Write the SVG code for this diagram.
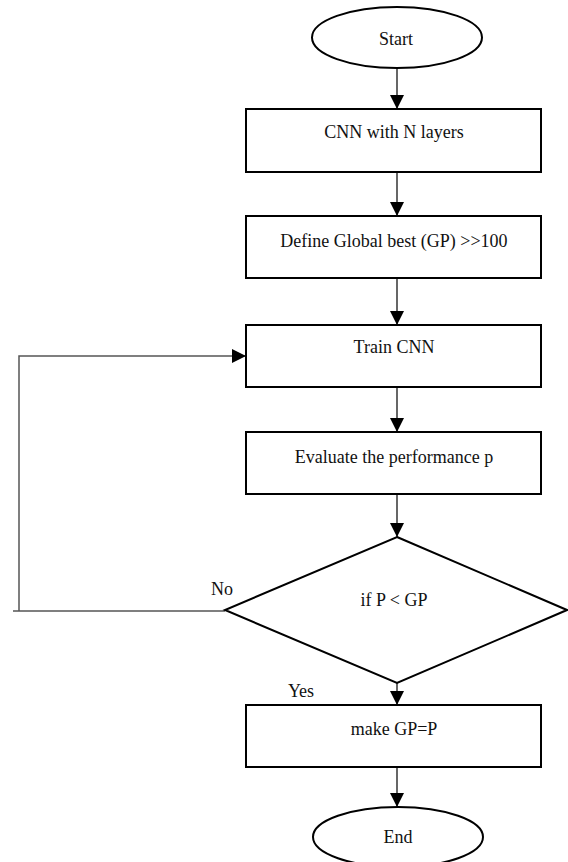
<svg xmlns="http://www.w3.org/2000/svg" width="568" height="862" viewBox="0 0 568 862">
<defs>
<marker id="ah" markerWidth="14" markerHeight="14" refX="14" refY="7" orient="auto" markerUnits="userSpaceOnUse">
<path d="M0,0 L14,7 L0,14 Z" fill="#000"/>
</marker>
<style>
.shape{fill:#fff;stroke:#000;stroke-width:2}
.lbl{font-family:"Liberation Serif","Times New Roman",serif;font-size:18px;fill:#111;text-anchor:middle}
.edge{fill:none;stroke:#000;stroke-width:1.2}
.loop{fill:none;stroke:#555;stroke-width:1.5}
</style>
</defs>
<rect width="568" height="862" fill="#fff"/>
<g id="connectors">
<line class="edge" x1="397" y1="68" x2="397" y2="109" marker-end="url(#ah)"/>
<line class="edge" x1="397" y1="172" x2="397" y2="216" marker-end="url(#ah)"/>
<line class="edge" x1="397" y1="278" x2="397" y2="325" marker-end="url(#ah)"/>
<line class="edge" x1="397" y1="387" x2="397" y2="432" marker-end="url(#ah)"/>
<line class="edge" x1="397" y1="494" x2="397" y2="537" marker-end="url(#ah)"/>
<line class="edge" x1="397" y1="683" x2="397" y2="705" marker-end="url(#ah)"/>
<line class="edge" x1="397" y1="767" x2="397" y2="807" marker-end="url(#ah)"/>
<line class="edge" x1="13" y1="611" x2="225" y2="611"/>
<polyline class="loop" points="19,611 19,356 246,356" marker-end="url(#ah)"/>
<text class="lbl" x="222" y="595">No</text>
<text class="lbl" x="301" y="697">Yes</text>
</g>
<g id="start">
<ellipse class="shape" cx="397" cy="37.5" rx="85" ry="30.5"/>
<text class="lbl" x="396" y="45">Start</text>
</g>
<g id="cnn">
<rect class="shape" x="246" y="109" width="295" height="63"/>
<text class="lbl" x="394" y="138">CNN with N layers</text>
</g>
<g id="define">
<rect class="shape" x="246" y="216" width="295" height="62"/>
<text class="lbl" x="394" y="247">Define Global best (GP) &gt;&gt;100</text>
</g>
<g id="train">
<rect class="shape" x="246" y="325" width="295" height="62"/>
<text class="lbl" x="394" y="353">Train CNN</text>
</g>
<g id="evaluate">
<rect class="shape" x="246" y="432" width="295" height="62"/>
<text class="lbl" x="394" y="463">Evaluate the performance p</text>
</g>
<g id="decision">
<polygon class="shape" points="397,537 567,610 397,683 225,610"/>
<text class="lbl" x="394" y="606">if P &lt; GP</text>
</g>
<g id="make">
<rect class="shape" x="246" y="705" width="295" height="62"/>
<text class="lbl" x="394" y="735">make GP=P</text>
</g>
<g id="end">
<ellipse class="shape" cx="398" cy="837" rx="85" ry="30"/>
<text class="lbl" x="398" y="843">End</text>
</g>
</svg>
